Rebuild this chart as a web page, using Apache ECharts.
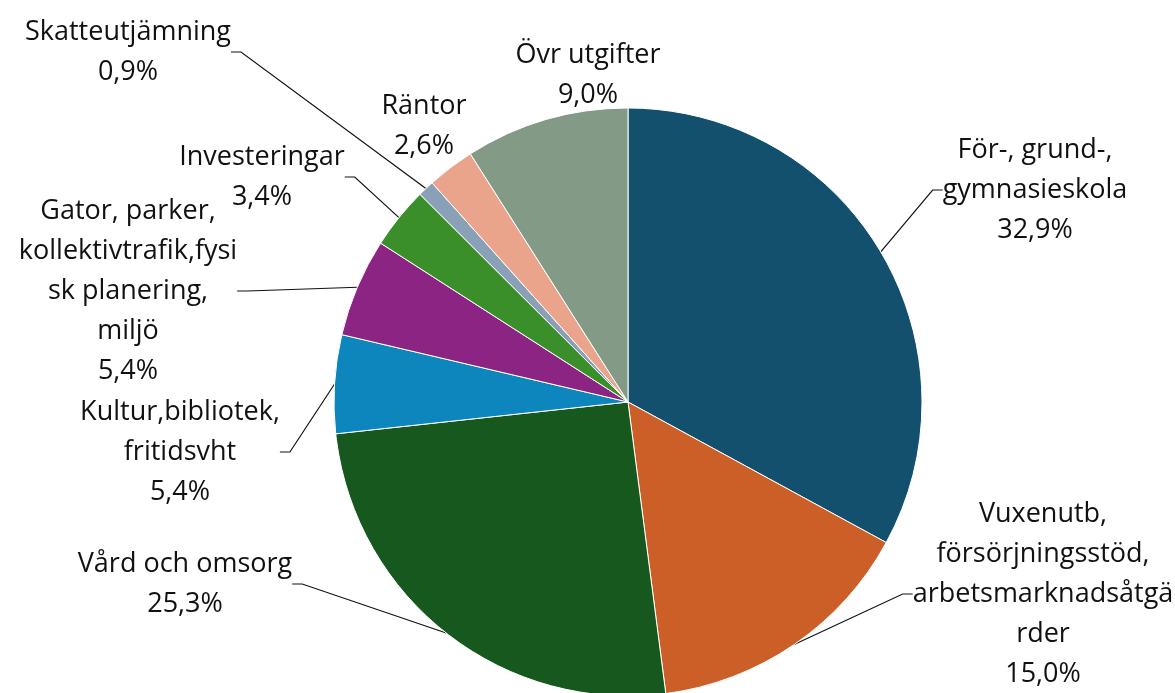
<!DOCTYPE html>
<html><head><meta charset="utf-8">
<script src="https://cdn.jsdelivr.net/npm/echarts@6/dist/echarts.min.js"></script>
<style>html,body{margin:0;padding:0;background:#fff}#c{width:1175px;height:693px}</style>
</head><body><div id="c"></div>
<script>
const categories = [
  "För-, grund-,\ngymnasieskola",
  "Vuxenutb,\nförsörjningsstöd,\narbetsmarknadsåtgä\nrder",
  "Vård och omsorg",
  "Kultur,bibliotek,\nfritidsvht",
  "Gator, parker,\nkollektivtrafik,fysi\nsk planering,\nmiljö",
  "Investeringar",
  "Skatteutjämning",
  "Räntor",
  "Övr utgifter"
];
const shares = [32.9, 15.0, 25.3, 5.4, 5.4, 3.4, 0.9, 2.6, 9.0];
const colors = ["#12506e", "#cc5f28", "#17581f", "#0c86bc", "#8b2483", "#3b8f2a", "#8aa0b6", "#eba48c", "#829a86"];
// label block centres (layout only)
const labelPos = [[1035,190],[1043,594],[185,584],[180,452],[128,291],[262,177],[128,52],[424,126],[588,75]];
const showLine = [true,true,true,true,true,true,true,false,false];

const chart = echarts.init(document.getElementById('c'));
chart.setOption({
  animation: false,
  series: [{
    type: 'pie',
    center: [628, 402],
    radius: 294,
    startAngle: 90,
    clockwise: true,
    itemStyle: { borderColor: '#fff', borderWidth: 1 },
    label: {
      show: true,
      color: '#111',
      fontFamily: 'Open Sans',
      fontSize: 27,
      lineHeight: 40,
      align: 'center',
      formatter: p => p.name + '\n' + p.value.toFixed(1).replace('.', ',') + '%'
    },
    labelLine: { show: true, lineStyle: { color: '#111', width: 1.2 }, length: 10, length2: 10 },
    labelLayout: p => ({
      x: labelPos[p.dataIndex][0],
      y: labelPos[p.dataIndex][1],
      align: 'center',
      verticalAlign: 'middle'
    }),
    data: categories.map((n, i) => ({
      name: n, value: shares[i],
      itemStyle: { color: colors[i] },
      labelLine: { show: showLine[i] }
    }))
  }]
});
</script></body></html>
